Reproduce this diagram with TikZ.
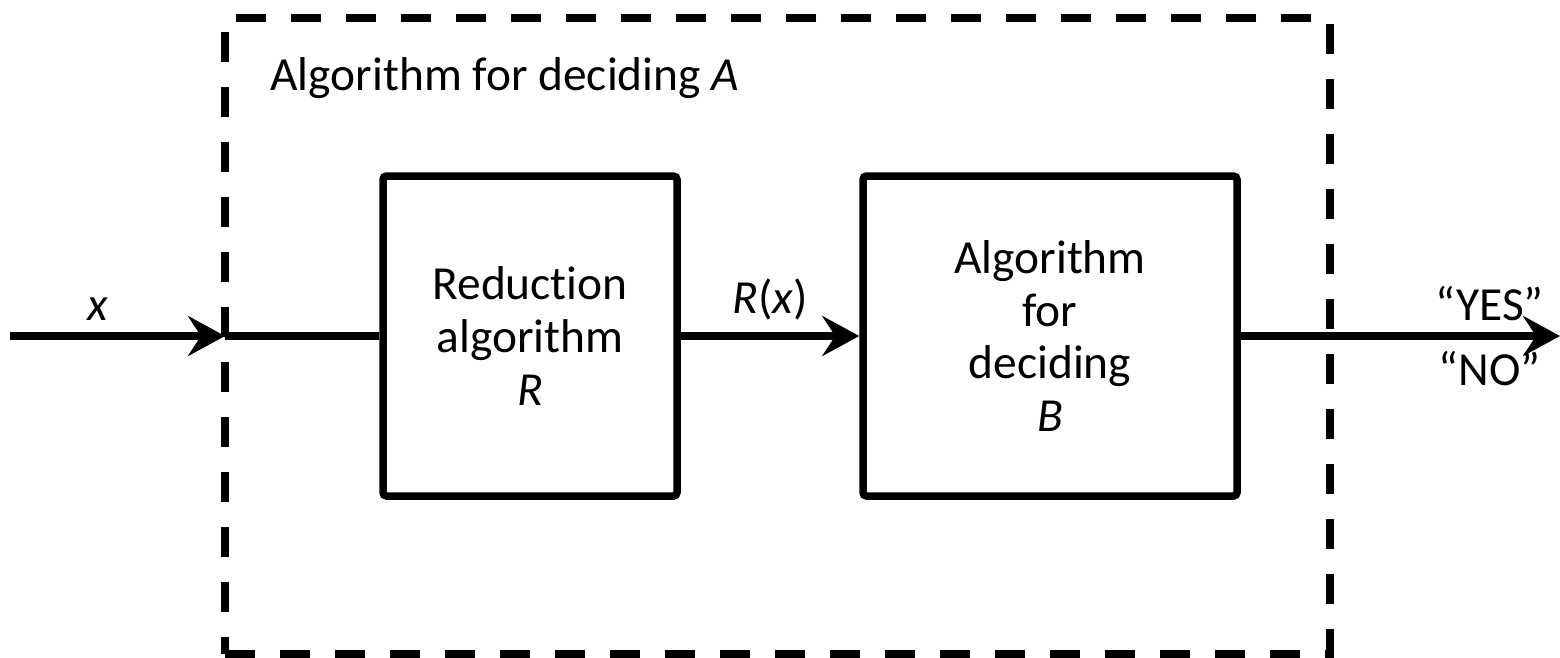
\documentclass[tikz,border=0pt]{standalone}
\usepackage{fontspec}
\setmainfont{Carlito}[Ligatures={TeX,NoCommon}]
\usetikzlibrary{positioning, arrows.meta}

\begin{document}
\begin{tikzpicture}[
        font=\fontsize{13.5pt}{15pt}\selectfont,
        box/.style={draw, rectangle, line width=0.075cm, rounded corners=1pt, align=center, inner sep=0pt, minimum height=3.2cm},
        wire/.style={line width=0.075cm},
        conn/.style={wire, -{Stealth[length=3.7mm, width=4mm, inset=1.3mm]}}
    ]
                \useasboundingbox (0,0) rectangle (15.6,6.57);
                \node[draw, rectangle, line width=0.08cm, dash pattern=on 0.3cm off 0.25cm, minimum width=11.05cm, minimum height=6.36cm, inner sep=0pt, outer sep=0pt] (A) at (7.775,3.21) {};
                \node[anchor=base west] (T) at (2.58,5.67) {Algorithm for deciding \textit{A}};
                \node[box, minimum width=2.94cm] (R) at (5.30,3.21) {Reduction\\algorithm\\\textit{R}};
                \node[box, minimum width=3.74cm] (B) at (10.50,3.21) {Algorithm\\for\\deciding\\\textit{B}};
                \coordinate (I) at (0.10,3.21);
                \coordinate (O) at (15.60,3.21);

                \draw[conn] (I) -- node[above, pos=0.41] (X) {\textit{x}} (A.west);
                \draw[wire] (A.west) -- (R.west);
                \draw[conn] (R) -- node[above] (RX) {\textit{R}(\textit{x})} (B);
                \draw[conn] (B) -- node[above, pos=0.78] (Y) {“YES”} node[below, pos=0.78] (N) {“NO”} (O);
            \end{tikzpicture}
\end{document}
